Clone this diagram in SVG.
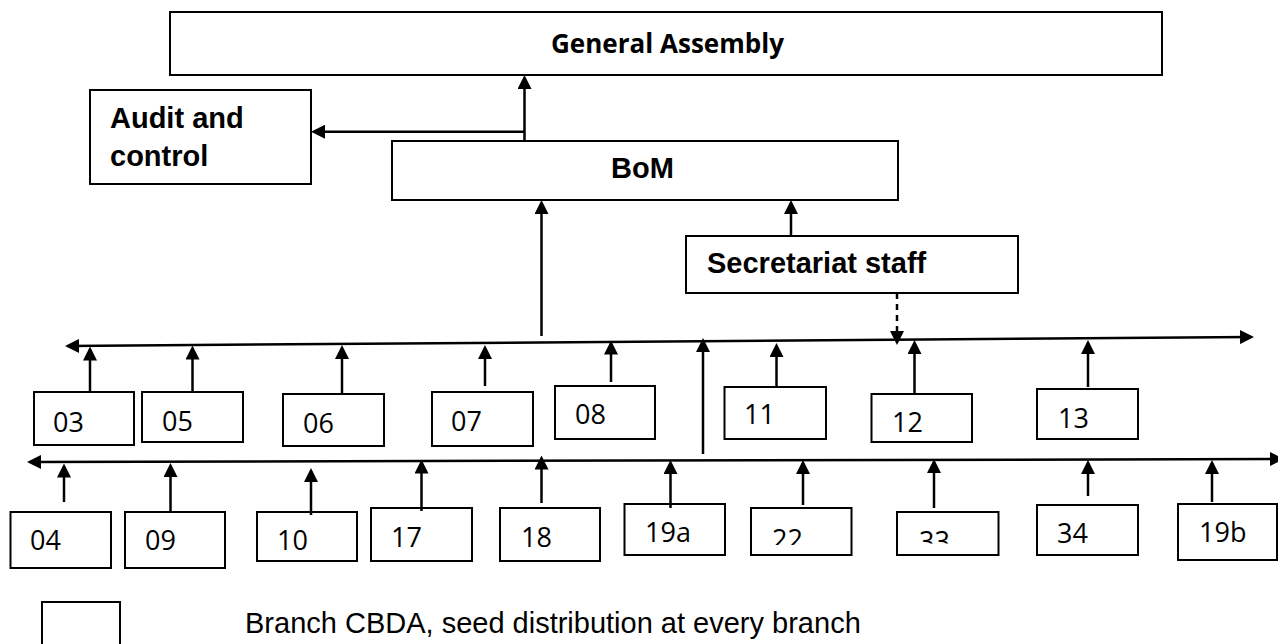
<svg xmlns="http://www.w3.org/2000/svg" width="1278" height="644" viewBox="0 0 1278 644">
<style>
rect.box{fill:#fff;stroke:#000;stroke-width:2}
text.b{font-family:"Liberation Sans",Arial,sans-serif;font-weight:bold;font-size:29px;fill:#000}
text.n{font-family:"Open Sans","Noto Sans",sans-serif;font-size:27px;fill:#000}
text.g{font-family:"Open Sans","Noto Sans",sans-serif;font-weight:bold;font-size:26px;fill:#000}
text.l{font-family:"Liberation Sans",Arial,sans-serif;font-size:29px;fill:#000}
#connectors line{stroke:#000;stroke-width:2.5;fill:none;marker-end:url(#ah)}
#connectors line.dash{stroke-dasharray:6 5}
#connectors line.both{marker-start:url(#ah)}
</style>
<defs>
<marker id="ah" markerUnits="userSpaceOnUse" markerWidth="14" markerHeight="14" viewBox="0 0 14 14" refX="11" refY="7" orient="auto-start-reverse">
<path d="M0,0 L14,7 L0,14 z" fill="#000"/>
</marker>
<clipPath id="c22"><rect x="751" y="508" width="101" height="37"/></clipPath>
<clipPath id="c33"><rect x="897" y="512" width="102" height="31.5"/></clipPath>
</defs>
<rect width="1278" height="644" fill="#fff"/>

<g id="general-assembly"><rect class="box" x="170" y="12" width="992" height="63"/><text class="g" x="551" y="53" textLength="233" lengthAdjust="spacingAndGlyphs">General Assembly</text></g>
<g id="audit"><rect class="box" x="90" y="90" width="221" height="94"/><text class="b" x="110" y="128">Audit and</text><text class="b" x="110" y="166">control</text></g>
<g id="bom"><rect class="box" x="392" y="141" width="506" height="59"/><text class="b" x="611" y="178">BoM</text></g>
<g id="secretariat"><rect class="box" x="686" y="236" width="332" height="57"/><text class="b" x="707" y="273">Secretariat staff</text></g>

<g id="n03"><rect class="box" x="34" y="392" width="100" height="53"/><text class="n" x="53" y="431.5">03</text></g>
<g id="n05"><rect class="box" x="142" y="392" width="101" height="50"/><text class="n" x="162" y="431">05</text></g>
<g id="n06"><rect class="box" x="283" y="394" width="101" height="52"/><text class="n" x="303" y="433">06</text></g>
<g id="n07"><rect class="box" x="432" y="392" width="101" height="54"/><text class="n" x="451" y="431">07</text></g>
<g id="n08"><rect class="box" x="555" y="386" width="100" height="53"/><text class="n" x="575" y="424">08</text></g>
<g id="n11"><rect class="box" x="724.5" y="387" width="101.5" height="52"/><text class="n" x="744" y="424">11</text></g>
<g id="n12"><rect class="box" x="871.5" y="394" width="100.5" height="48"/><text class="n" x="892" y="432">12</text></g>
<g id="n13"><rect class="box" x="1037" y="389" width="101" height="50"/><text class="n" x="1058" y="428">13</text></g>

<g id="n04"><rect class="box" x="10.5" y="512" width="100.5" height="56"/><text class="n" x="30" y="550">04</text></g>
<g id="n09"><rect class="box" x="125" y="512" width="100" height="56"/><text class="n" x="145" y="550">09</text></g>
<g id="n10"><rect class="box" x="257" y="512" width="100" height="49"/><text class="n" x="277" y="550">10</text></g>
<g id="n17"><rect class="box" x="371" y="508" width="101" height="53"/><text class="n" x="391" y="547">17</text></g>
<g id="n18"><rect class="box" x="500" y="508" width="100" height="53"/><text class="n" x="521" y="547">18</text></g>
<g id="n19a"><rect class="box" x="624.5" y="504" width="100.5" height="51"/><text class="n" x="645" y="542">19a</text></g>
<g id="n22"><rect class="box" x="751" y="508" width="100.5" height="47"/><text class="n" x="772" y="549" clip-path="url(#c22)">22</text></g>
<g id="n33"><rect class="box" x="897" y="512" width="101.5" height="43"/><text class="n" x="919" y="551" clip-path="url(#c33)">33</text></g>
<g id="n34"><rect class="box" x="1037" y="505" width="101" height="50"/><text class="n" x="1057" y="543">34</text></g>
<g id="n19b"><rect class="box" x="1178" y="504" width="99" height="56"/><text class="n" x="1199" y="542">19b</text></g>

<g id="legend"><rect class="box" x="42" y="602" width="78" height="50"/><text class="l" x="245" y="633">Branch CBDA, seed distribution at every branch</text></g>

<g id="connectors">
<line x1="524.5" y1="141" x2="524.5" y2="78"/>
<line x1="524.5" y1="131.7" x2="314" y2="131.7"/>
<line x1="541.5" y1="336" x2="541.5" y2="203"/>
<line x1="791" y1="236" x2="791" y2="203"/>
<line class="dash" x1="897" y1="293" x2="897" y2="342"/>
<line class="both" x1="68" y1="346" x2="1251" y2="337"/>
<line x1="703" y1="454" x2="703" y2="341"/>
<line class="both" x1="30" y1="462" x2="1281" y2="459"/>
<line x1="90" y1="392" x2="90" y2="349.5"/>
<line x1="192.5" y1="392" x2="192.5" y2="348.5"/>
<line x1="342" y1="394" x2="342" y2="348"/>
<line x1="485" y1="386" x2="485" y2="348"/>
<line x1="611" y1="382" x2="611" y2="343.5"/>
<line x1="776.5" y1="387" x2="776.5" y2="346"/>
<line x1="914.5" y1="394" x2="914.5" y2="343"/>
<line x1="1088" y1="387" x2="1088" y2="343"/>
<line x1="64" y1="502" x2="64" y2="466.5"/>
<line x1="170.5" y1="512" x2="170.5" y2="466"/>
<line x1="311" y1="515" x2="311" y2="471"/>
<line x1="421.5" y1="511" x2="421.5" y2="462.5"/>
<line x1="541.5" y1="503" x2="541.5" y2="458.5"/>
<line x1="670.5" y1="508" x2="670.5" y2="463"/>
<line x1="803" y1="505" x2="803" y2="463"/>
<line x1="934" y1="508" x2="934" y2="462"/>
<line x1="1088" y1="496" x2="1088" y2="463"/>
<line x1="1212" y1="502" x2="1212" y2="463"/>
</g>
</svg>
